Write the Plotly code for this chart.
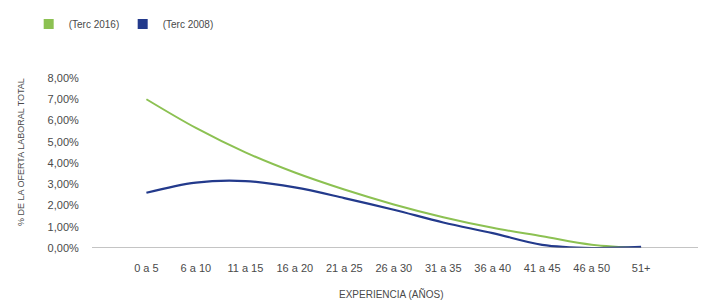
import plotly.graph_objects as go

categories = ["0 a 5", "6 a 10", "11 a 15", "16 a 20", "21 a 25", "26 a 30",
              "31 a 35", "36 a 40", "41 a 45", "46 a 50", "51+"]
terc_2016 = [7.0, 5.65, 4.5, 3.55, 2.75, 2.05, 1.45, 0.95, 0.55, 0.15, 0.0]
terc_2008 = [2.6, 3.08, 3.15, 2.85, 2.35, 1.8, 1.2, 0.7, 0.15, 0.0, 0.05]
y_ticks = [0, 1, 2, 3, 4, 5, 6, 7, 8]
y_tick_labels = ["0,00%", "1,00%", "2,00%", "3,00%", "4,00%", "5,00%", "6,00%", "7,00%", "8,00%"]

GREEN = "#8cc152"
BLUE = "#233a8c"
FONT = "Liberation Sans Narrow, Liberation Sans, Arial, sans-serif"
TXT = "#4a4a4a"

xpos = list(range(len(categories)))

fig = go.Figure()
fig.add_trace(go.Scatter(x=xpos, y=terc_2016, mode="lines", line=dict(color=GREEN, width=2, shape="spline", smoothing=1.0),
                         showlegend=False, hoverinfo="skip"))
fig.add_trace(go.Scatter(x=xpos, y=terc_2008, mode="lines", line=dict(color=BLUE, width=2.2, shape="spline", smoothing=1.0),
                         showlegend=False, hoverinfo="skip"))
# legend entries (square swatches)
fig.add_trace(go.Scatter(x=[None], y=[None], mode="markers", name="(Terc 2016)",
                         marker=dict(symbol="square", size=10, color=GREEN)))
fig.add_trace(go.Scatter(x=[None], y=[None], mode="markers", name="(Terc 2008)",
                         marker=dict(symbol="square", size=10, color=BLUE)))

fig.update_layout(
    width=699, height=297,
    margin=dict(l=84, r=9, t=70, b=57, autoexpand=False),
    paper_bgcolor="white", plot_bgcolor="white",
    font=dict(family=FONT, size=11, color=TXT),
    legend=dict(orientation="h", xref="container", yref="container",
                x=0.0296, xanchor="left", y=0.995, yanchor="top",
                font=dict(size=10, color=TXT), entrywidth=49, entrywidthmode="pixels",
                itemwidth=30, bgcolor="rgba(0,0,0,0)"),
    xaxis=dict(range=[-1.1, 11.15], tickmode="array", tickvals=xpos, ticktext=categories,
               showgrid=False, zeroline=False, showline=False,
               ticks="outside", ticklen=10, tickcolor="rgba(0,0,0,0)",
               tickfont=dict(size=11, color=TXT)),
    yaxis=dict(range=[0, 8], tickmode="array", tickvals=y_ticks, ticktext=y_tick_labels,
               showgrid=False, zeroline=False, showline=False,
               ticks="outside", ticklen=10, tickcolor="rgba(0,0,0,0)",
               tickfont=dict(size=11, color=TXT)),
    shapes=[dict(type="line", xref="paper", yref="y", x0=0, x1=1, y0=0, y1=0,
                 line=dict(color="#8a8a8a", width=1.2))],
    annotations=[
        dict(text="EXPERIENCIA (AÑOS)", xref="paper", yref="paper", x=0.493, y=-0.27,
             xanchor="center", yanchor="middle", showarrow=False, font=dict(size=10, color=TXT)),
        dict(text="% DE LA OFERTA LABORAL TOTAL", xref="paper", yref="paper", x=-0.117, y=0.565,
             xanchor="center", yanchor="middle", textangle=-90, showarrow=False,
             font=dict(size=9, color=TXT)),
    ],
)

fig.write_html("out.html")
